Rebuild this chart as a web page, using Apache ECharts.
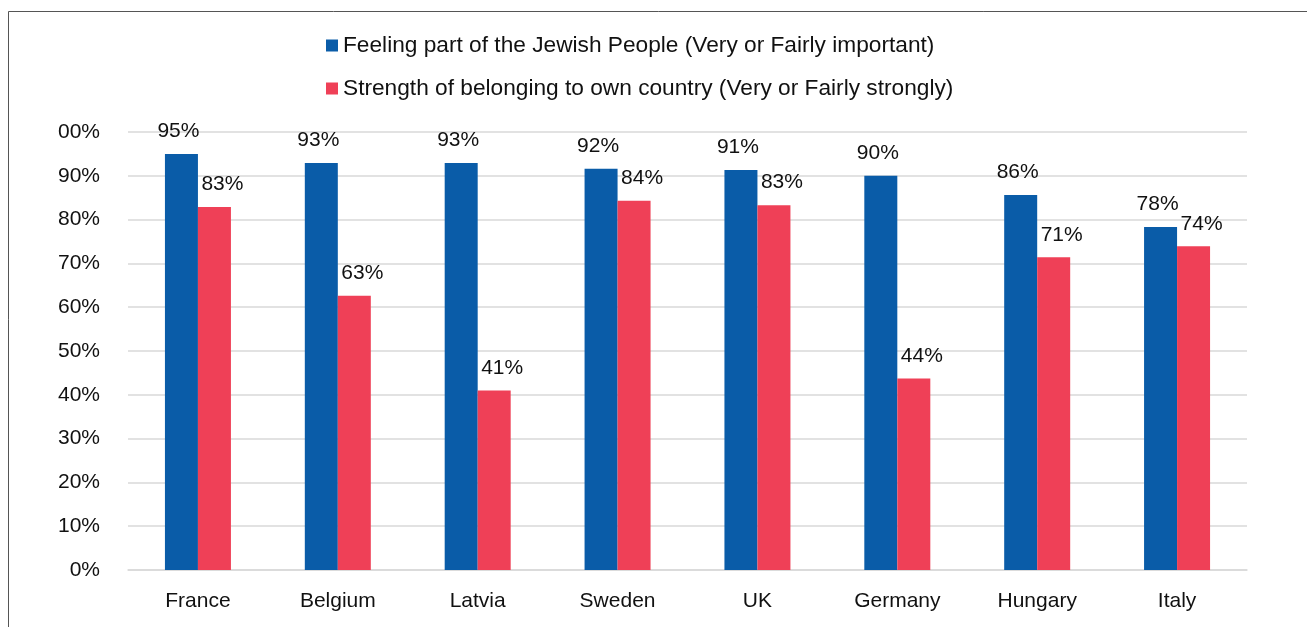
<!DOCTYPE html>
<html>
<head>
<meta charset="utf-8">
<script src="https://cdn.jsdelivr.net/npm/echarts@6/dist/echarts.min.js"></script>
<style>
html,body{margin:0;padding:0;background:#fff;}
#c{width:1307px;height:627px;}
</style>
</head>
<body>
<div id="c"></div>
<script>
const categories = ['France','Belgium','Latvia','Sweden','UK','Germany','Hungary','Italy'];
const seriesNames = ['Feeling part of the Jewish People (Very or Fairly important)','Strength of belonging to own country (Very or Fairly strongly)'];
const jewishPeople = [95.0, 92.9, 92.9, 91.6, 91.3, 90.0, 85.6, 78.3];
const ownCountry = [82.9, 62.6, 41.0, 84.3, 83.3, 43.7, 71.4, 73.9];
const yTicks = {min:0, max:100, interval:10};

const chart = echarts.init(document.getElementById('c'), null, {renderer:'canvas'});
const font = 'Liberation Sans, Arial, sans-serif';
const labelCommon = {
  show:true, position:'top', distance:12, color:'#111', fontSize:21, fontFamily:font,
  formatter: p => Math.round(p.value) + '%'
};
chart.setOption({
  animation:false,
  backgroundColor:'#fff',
  graphic:[{type:'rect', shape:{x:8.5,y:11.5,width:1400,height:700}, style:{fill:null, stroke:'#555', lineWidth:1}, silent:true}],
  legend:{
    orient:'vertical', left:321, top:29, itemWidth:12, itemHeight:12, itemGap:20,
    icon:'rect',
    textStyle:{fontSize:22.7, fontFamily:font, color:'#111', padding:[0,0,0,0]},
    data:seriesNames
  },
  grid:{left:128, right:60, top:132, bottom:57, containLabel:false},
  xAxis:{
    type:'category', data:categories,
    axisLine:{lineStyle:{color:'#d9d9d9', width:1.5}},
    axisTick:{show:false},
    axisLabel:{color:'#111', fontSize:21, fontFamily:font, margin:21}
  },
  yAxis:{
    type:'value', min:yTicks.min, max:yTicks.max, interval:yTicks.interval,
    axisLine:{show:false}, axisTick:{show:false},
    splitLine:{lineStyle:{color:'#d9d9d9', width:1.5}},
    axisLabel:{color:'#111', fontSize:21, fontFamily:font, margin:28,
      formatter: v => (v === 100 ? '00' : v) + '%'}
  },
  series:[
    {name:seriesNames[0], type:'bar', data:jewishPeople, barWidth:33, barGap:'0%',
     itemStyle:{color:'#0A5CA8'}, label:Object.assign({}, labelCommon, {offset:[-3,0]})},
    {name:seriesNames[1], type:'bar', data:ownCountry, barWidth:33,
     itemStyle:{color:'#EF4057'}, label:Object.assign({}, labelCommon, {offset:[8,0]})}
  ]
});
</script>
</body>
</html>
